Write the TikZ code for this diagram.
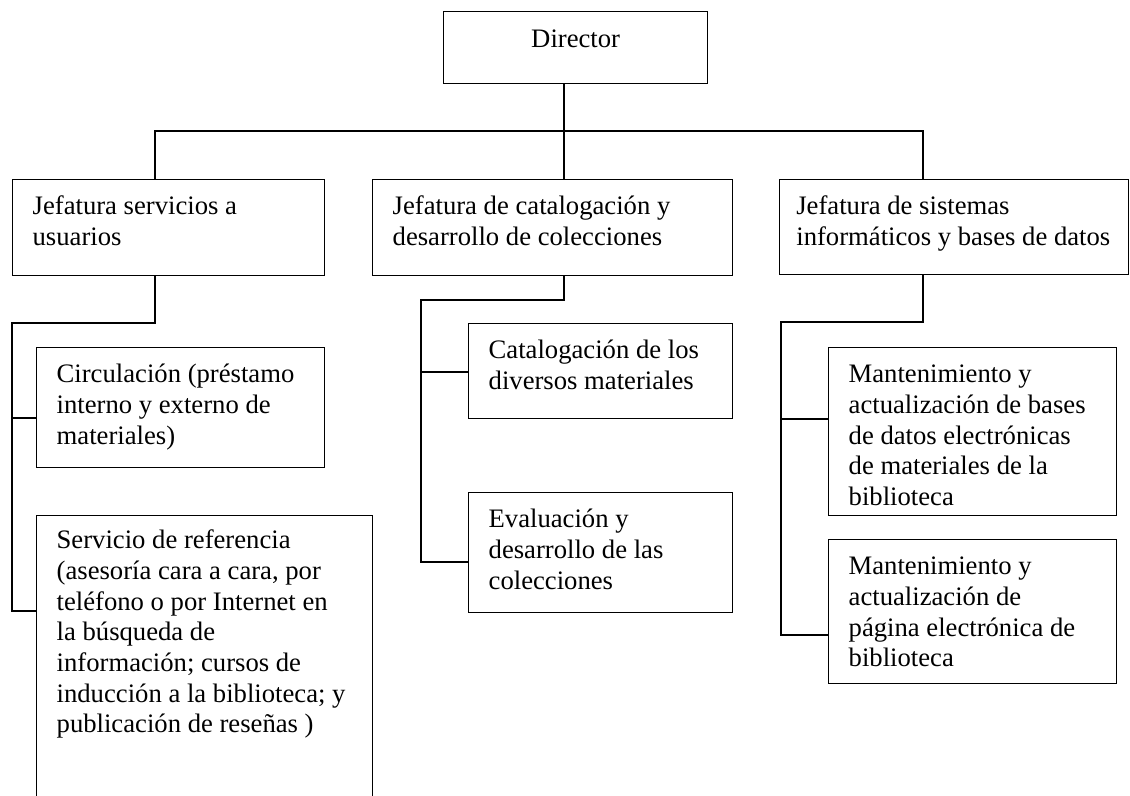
\documentclass[tikz,border=0pt]{standalone}
\usepackage{fontspec}
\setmainfont{Liberation Serif}

\begin{document}
\begin{tikzpicture}[x=0.45pt,y=-0.45pt,line width=0.6pt,
    caja/.style={draw=black,anchor=north west,align=flush left,inner xsep=9pt,inner ysep=0pt,
      text height=15.75pt,font=\fontsize{12}{13.8}\selectfont}]
                \useasboundingbox (0,0) rectangle (1130,796);
                \clip (0,0) rectangle (1130,796);
                \node[caja,align=center,text width=100.8pt,text height=16.2pt,text depth=16.2pt](D) at (443,11) {Director};
                \node[caja,text width=122.4pt,text depth=27.45pt](U) at (12,179) {Jefatura servicios a\\usuarios};
                \node[caja,text width=144pt,text depth=27.45pt](C) at (372,179) {Jefatura de catalogación y\\desarrollo de colecciones};
                \node[caja,inner xsep=7.5pt,text width=142.05pt,text depth=27pt](S) at (779,179) {Jefatura de sistemas\\informáticos y bases de datos};
                \node[caja,text width=111.6pt,text depth=38.25pt](U1) at (36,347) {Circulación (préstamo\\interno y externo de\\materiales)};
                \node[caja,text width=133.2pt,text height=14.85pt,text depth=135pt](U2) at (36,515) {Servicio de referencia\\(asesoría cara a cara, por\\teléfono o por Internet en\\la búsqueda de\\información; cursos de\\inducción a la biblioteca; y\\publicación de reseñas )};
                \node[caja,text width=100.8pt,text depth=27pt](C1) at (468,323) {Catalogación de los\\diversos materiales};
                \node[caja,text width=100.8pt,text depth=38.25pt](C2) at (468,492) {Evaluación y\\desarrollo de las\\colecciones};
                \node[caja,text width=111.6pt,text depth=59.85pt](S1) at (828,347) {Mantenimiento y\\actualización de bases\\de datos electrónicas\\de materiales de la\\biblioteca};
                \node[caja,text width=111.6pt,text depth=49.05pt](S2) at (828,539) {Mantenimiento y\\actualización de\\página electrónica de\\biblioteca};
                % director to the three heads
                \coordinate (b) at (564,131);
                \coordinate (bL) at (155,131);
                \coordinate (bR) at (923,131);
                \draw (D.south -| b)--(C.north -| b);
                \draw (bL |- U.north)--(bL)--(bR)--(bR |- S.north);
                % servicios a usuarios
                \coordinate (u) at (155,323);
                \coordinate (u0) at (12,323);
                \coordinate (u1) at (12,418);
                \coordinate (u2) at (12,611);
                \draw (U.south -| u)--(u)--(u0)--(u2)--(u2 -| U2.west);
                \draw (u1)--(u1 -| U1.west);
                % catalogacion
                \coordinate (c) at (564,300);
                \coordinate (c0) at (421,300);
                \coordinate (c1) at (421,372);
                \coordinate (c2) at (421,562);
                \draw (C.south -| c)--(c)--(c0)--(c2)--(c2 -| C2.west);
                \draw (c1)--(c1 -| C1.west);
                % sistemas
                \coordinate (s) at (923,322);
                \coordinate (s0) at (781,322);
                \coordinate (s1) at (781,419);
                \coordinate (s2) at (781,635);
                \draw (S.south -| s)--(s)--(s0)--(s2)--(s2 -| S2.west);
                \draw (s1)--(s1 -| S1.west);
            \end{tikzpicture}
\end{document}
